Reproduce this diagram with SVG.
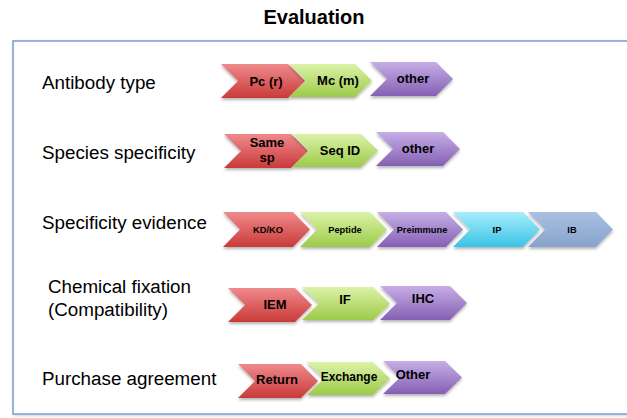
<svg xmlns="http://www.w3.org/2000/svg" width="627" height="418" viewBox="0 0 627 418">
<style>
.lbl{font-family:"Liberation Sans",Arial,sans-serif;font-size:18.8px;fill:#000}
.ct{font-family:"Liberation Sans",Arial,sans-serif;font-size:13px;font-weight:bold;fill:#000;text-anchor:middle}
.cs{font-family:"Liberation Sans",Arial,sans-serif;font-size:9.3px;font-weight:bold;fill:#000;text-anchor:middle}
.red{fill:url(#gRed)}.grn{fill:url(#gGrn)}.pur{fill:url(#gPur)}.cyn{fill:url(#gCyn)}.blu{fill:url(#gBlu)}
.chev{filter:url(#sh)}
</style>
<defs>
<linearGradient id="gRed" x1="0" y1="0" x2="0" y2="1"><stop offset="0" stop-color="#f08a8c"/><stop offset="1" stop-color="#c93a3a"/></linearGradient>
<linearGradient id="gGrn" x1="0" y1="0" x2="0" y2="1"><stop offset="0" stop-color="#dcf2a8"/><stop offset="1" stop-color="#9ccb4a"/></linearGradient>
<linearGradient id="gPur" x1="0" y1="0" x2="0" y2="1"><stop offset="0" stop-color="#c6aee6"/><stop offset="1" stop-color="#8560b4"/></linearGradient>
<linearGradient id="gCyn" x1="0" y1="0" x2="0" y2="1"><stop offset="0" stop-color="#a6eefb"/><stop offset="1" stop-color="#3bc3e6"/></linearGradient>
<linearGradient id="gBlu" x1="0" y1="0" x2="0" y2="1"><stop offset="0" stop-color="#a9c0e2"/><stop offset="1" stop-color="#88a3cc"/></linearGradient>
<filter id="sh" x="-10%" y="-20%" width="120%" height="150%"><feDropShadow dx="0" dy="2" stdDeviation="1.5" flood-color="#000" flood-opacity="0.3"/></filter>
<filter id="fsh" x="-5%" y="-5%" width="110%" height="110%"><feDropShadow dx="1" dy="1" stdDeviation="1.5" flood-color="#000" flood-opacity="0.2"/></filter>
</defs>

<text x="314" y="24" font-family="'Liberation Sans',Arial,sans-serif" font-size="20" font-weight="bold" text-anchor="middle">Evaluation</text>

<g id="frame">
<rect x="13" y="41" width="640" height="373" fill="#fff" stroke="#7a9cd8" stroke-width="1.5" filter="url(#fsh)"/>
</g>

<g id="labels">
<text class="lbl" x="42" y="89">Antibody type</text>
<text class="lbl" x="42" y="159">Species specificity</text>
<text class="lbl" x="42" y="229">Specificity evidence</text>
<text class="lbl" x="48" y="293">Chemical fixation</text>
<text class="lbl" x="48" y="316">(Compatibility)</text>
<text class="lbl" x="42" y="385">Purchase agreement</text>
</g>

<g id="row-antibody">
<g id="ab-pc"><path class="chev red" d="M221,64 L288,64 L305,81 L288,98 L221,98 L238,81 Z"/><text class="ct" x="266" y="86">Pc (r)</text></g>
<g id="ab-mc"><path class="chev grn" d="M289,64 L355,64 L372,80.5 L355,97 L289,97 L306,80.5 Z"/><text class="ct" x="338" y="85">Mc (m)</text></g>
<g id="ab-other"><path class="chev pur" d="M370,62 L436,62 L453,79 L436,96 L370,96 L387,79 Z"/><text class="ct" x="413" y="83">other</text></g>
</g>

<g id="row-species">
<g id="sp-same"><path class="chev red" d="M224,134 L291,134 L308,151 L291,168 L224,168 L241,151 Z"/><text class="ct" x="267" y="147">Same</text><text class="ct" x="267" y="162">sp</text></g>
<g id="sp-seq"><path class="chev grn" d="M292,134 L361,134 L378,150.5 L361,167 L292,167 L309,150.5 Z"/><text class="ct" x="340" y="155">Seq ID</text></g>
<g id="sp-other"><path class="chev pur" d="M376,132 L443,132 L460,149 L443,166 L376,166 L393,149 Z"/><text class="ct" x="418" y="153">other</text></g>
</g>

<g id="row-evidence">
<g id="ev-kdko"><path class="chev red" d="M223,212 L293,212 L310,229.5 L293,247 L223,247 L240,229.5 Z"/><text class="cs" x="268" y="233">KD/KO</text></g>
<g id="ev-pep"><path class="chev grn" d="M300,212 L370,212 L387,229.5 L370,247 L300,247 L317,229.5 Z"/><text class="cs" x="345" y="233">Peptide</text></g>
<g id="ev-pre"><path class="chev pur" d="M377,212 L446,212 L463,229.5 L446,247 L377,247 L394,229.5 Z"/><text class="cs" x="422" y="233">Preimmune</text></g>
<g id="ev-ip"><path class="chev cyn" d="M453,212 L523,212 L540,229.5 L523,247 L453,247 L470,229.5 Z"/><text class="cs" x="497" y="233">IP</text></g>
<g id="ev-ib"><path class="chev blu" d="M528,212 L596,212 L613,229.5 L596,247 L528,247 L545,229.5 Z"/><text class="cs" x="572" y="233">IB</text></g>
</g>

<g id="row-fixation">
<g id="fx-iem"><path class="chev red" d="M228,288 L295,288 L312,305 L295,322 L228,322 L245,305 Z"/><text class="ct" x="275" y="309">IEM</text></g>
<g id="fx-if"><path class="chev grn" d="M302,287 L373,287 L390,303.5 L373,320 L302,320 L319,303.5 Z"/><text class="ct" x="345" y="304">IF</text></g>
<g id="fx-ihc"><path class="chev pur" d="M380,286 L450,286 L467,303 L450,320 L380,320 L397,303 Z"/><text class="ct" x="423" y="303">IHC</text></g>
</g>

<g id="row-purchase">
<g id="pu-return"><path class="chev red" d="M238,364 L301,364 L318,381 L301,398 L238,398 L255,381 Z"/><text class="ct" x="277" y="384">Return</text></g>
<g id="pu-exchange"><path class="chev grn" d="M307,362 L373,362 L390,378.5 L373,395 L307,395 L324,378.5 Z"/><text class="ct" x="349" y="381" style="font-size:12px">Exchange</text></g>
<g id="pu-other"><path class="chev pur" d="M383,361 L445,361 L462,377.5 L445,394 L383,394 L400,377.5 Z"/><text class="ct" x="413" y="379">Other</text></g>
</g>

<g id="connectors"/>
</svg>
